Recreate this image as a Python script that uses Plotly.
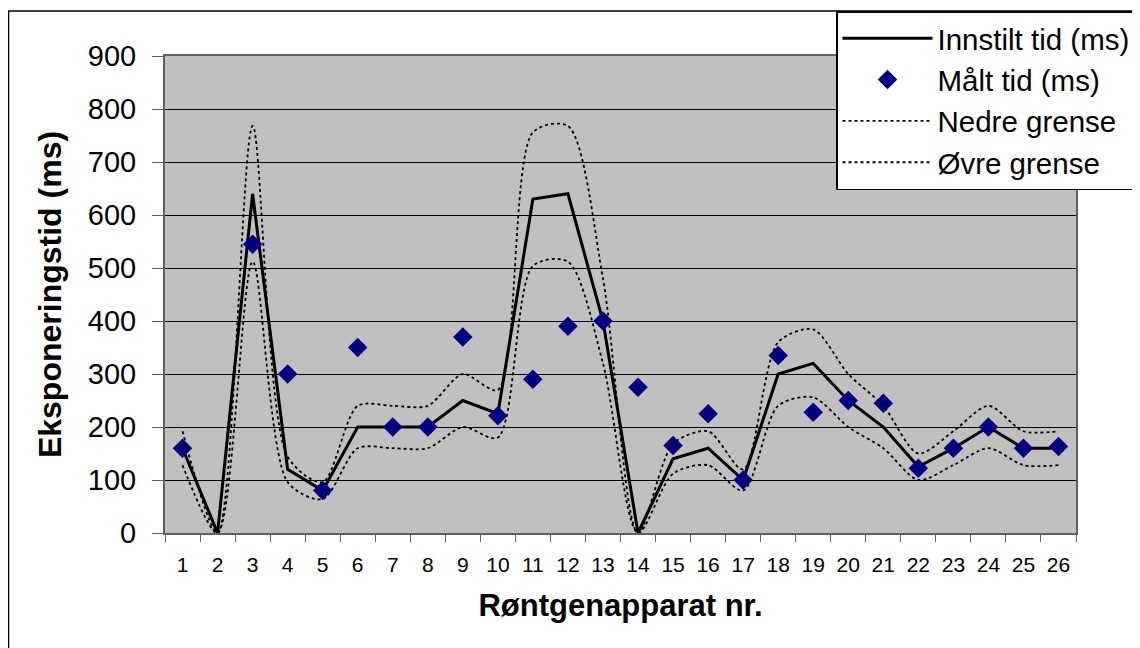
import plotly.graph_objects as go

categories = [str(i) for i in range(1, 27)]
innstilt = [160, 0, 640, 120, 80, 200, 200, 200, 250, 225, 630, 640, 400, 0,
            140, 160, 100, 300, 320, 250, 200, 125, 160, 200, 160, 160]
maalt = [160, None, 545, 300, 80, 350, 200, 200, 370, 221, 290, 390, 400, 275,
         165, 225, 100, 335, 228, 250, 245, 122, 160, 200, 160, 163]
nedre = [128, 0, 512, 96, 64, 160, 160, 160, 200, 180, 504, 512, 320, 0,
         112, 128, 80, 240, 256, 200, 160, 100, 128, 160, 128, 128]
ovre = [192, 0, 768, 144, 96, 240, 240, 240, 300, 270, 756, 768, 480, 0,
        168, 192, 120, 360, 384, 300, 240, 150, 192, 240, 192, 192]
y_ticks = [0, 100, 200, 300, 400, 500, 600, 700, 800, 900]

OFF = 8  # page body margin
W, H = 1140 - OFF, 648 - OFF
L, R, T, B = 165 - OFF, 1076 - OFF, 56 - OFF, 533 - OFF

fig = go.Figure()
fig.add_trace(go.Scatter(x=categories, y=innstilt, mode="lines", name="Innstilt tid (ms)",
                         line=dict(color="black", width=3)))
fig.add_trace(go.Scatter(x=categories, y=maalt, mode="markers", name="Målt tid (ms)",
                         marker=dict(symbol="diamond", color="#000080", size=15,
                                     line=dict(width=0))))
fig.add_trace(go.Scatter(x=categories, y=nedre, mode="lines", name="Nedre grense",
                         line=dict(color="black", width=1.8, dash="3px,3px",
                                   shape="spline", smoothing=0.8)))
fig.add_trace(go.Scatter(x=categories, y=ovre, mode="lines", name="Øvre grense",
                         line=dict(color="black", width=1.8, dash="3px,3px",
                                   shape="spline", smoothing=0.8)))

pw, ph = R - L, B - T
def px2x(px):
    return (px - OFF - L) / pw
def px2y(py):
    return (B - (py - OFF)) / ph

fig.add_shape(type="rect", xref="paper", yref="paper",
              x0=px2x(8.5), x1=px2x(1170), y0=px2y(11), y1=px2y(680),
              line=dict(color="black", width=1.5), fillcolor="rgba(0,0,0,0)", layer="below")

fig.update_layout(
    width=W, height=H,
    margin=dict(l=L, r=W - R, t=T, b=H - B, autoexpand=False),
    paper_bgcolor="white",
    plot_bgcolor="#C0C0C0",
    font=dict(family="Liberation Sans, Arial, sans-serif", color="black"),
    showlegend=True,
    legend=dict(x=px2x(836), y=px2y(11), xanchor="left", yanchor="top",
                bgcolor="white", bordercolor="black", borderwidth=1.5,
                font=dict(size=29.5), itemwidth=90, tracegroupgap=0),
    xaxis=dict(type="category", tickson="boundaries", ticks="outside", ticklen=7,
               tickcolor="#606060", showgrid=False, showline=True, linecolor="#606060",
               linewidth=2, mirror=True, tickfont=dict(size=21), ticklabelstandoff=12,
               title=dict(text="<b>Røntgenapparat nr.</b>", font=dict(size=31), standoff=19),
               range=[-0.5, 25.5]),
    yaxis=dict(range=[0, 900], tickvals=y_ticks, ticks="outside", ticklen=11,
               tickcolor="#606060", showgrid=True, gridcolor="black", gridwidth=1,
               showline=True, linecolor="#606060", linewidth=2, mirror=True,
               zeroline=False, tickfont=dict(size=29), ticklabelstandoff=10,
               title=dict(text="<b>Eksponeringstid (ms)</b>", font=dict(size=32), standoff=17)),
)

fig.write_html("out.html")
